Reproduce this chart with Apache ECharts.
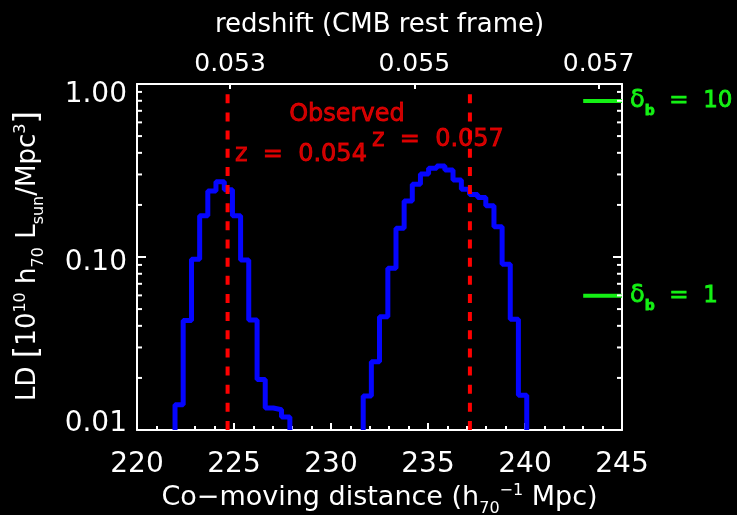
<!DOCTYPE html>
<html>
<head>
<meta charset="utf-8">
<script src="https://cdn.jsdelivr.net/npm/echarts@6.0.0/dist/echarts.min.js"></script>
<style>
html,body{margin:0;padding:0;background:#000;}
#chart{width:737px;height:515px;}
</style>
</head>
<body>
<div id="chart"></div>
<script>
// ---------------- data ----------------
// luminosity-density histogram around the nearer structure (bin edges in h70^-1 Mpc)
const leftBinEdges = [221.96, 222.38, 222.81, 223.23, 223.65, 224.07, 224.50, 224.92, 225.34, 225.76, 226.19, 226.61, 227.03, 227.45, 227.88];
const leftLD = [0.0140, 0.0429, 0.097, 0.173, 0.241, 0.272, 0.245, 0.173, 0.096, 0.0432, 0.0196, 0.0134, 0.0131, 0.0119];
// histogram around the farther structure
const rightBinEdges = [231.66, 232.08, 232.50, 232.93, 233.35, 233.77, 234.19, 234.61, 235.03, 235.45, 235.87, 236.29, 236.72, 237.14, 237.56, 237.98, 238.40, 238.82, 239.24, 239.66, 240.09];
const rightLD = [0.0157, 0.0248, 0.0452, 0.0861, 0.1466, 0.2108, 0.263, 0.302, 0.326, 0.336, 0.318, 0.279, 0.246, 0.230, 0.221, 0.198, 0.1496, 0.0908, 0.0437, 0.0159];
// observed redshifts (dashed lines)
const observedDistances = [224.67, 237.16];
const observedLabels = ['z  =  0.054', 'z  =  0.057'];
const observedTopLD = 0.875;
// overdensity reference levels
const deltaLevels = [0.797, 0.0597];
const deltaLabels = ['10', '1'];
const deltaMarkerFrom = 243.0;
// axes
const distanceRange = [220, 245];
const distanceStep = 5;
const redshiftRange = [0.05199, 0.057255];
const redshiftTicks = [0.053, 0.055, 0.057];
const ldRange = [0.01, 1];
const ldMinorTicks = [0.02, 0.03, 0.04, 0.05, 0.06, 0.07, 0.08, 0.09, 0.2, 0.3, 0.4, 0.5, 0.6, 0.7, 0.8, 0.9];

// ---------------- styling ----------------
const FONT = 'DejaVu Sans';
const WHITE = '#ffffff';
const RED = '#ff0000';
const BLUE = '#0505ff';
const GREEN = '#14f014';

function stepOutline(edges, values) {
  const pts = [[edges[0], ldRange[0]]];
  for (let i = 0; i < values.length; i++) pts.push([edges[i + 1], values[i]]);
  pts.push([edges[edges.length - 1], ldRange[0]]);
  return pts;
}

const axisLineStyle = { show: true, lineStyle: { color: WHITE, width: 2 } };

function titleRich(size) {
  return {
    m: { fontFamily: FONT, fontSize: size, color: WHITE, lineHeight: 34 },
    sub: { fontFamily: FONT, fontSize: 16, color: WHITE, verticalAlign: 'bottom', height: 12, lineHeight: 34 },
    sup: { fontFamily: FONT, fontSize: 16, color: WHITE, verticalAlign: 'top', height: 20, lineHeight: 34 },
    br: { fontFamily: FONT, fontSize: 32, color: WHITE, lineHeight: 34 }
  };
}

const ldLabelRich = {
  t: { fontFamily: FONT, fontSize: 28, color: WHITE, padding: [22, 0, 0, 0] },
  c: { fontFamily: FONT, fontSize: 28, color: WHITE, padding: [12, 0, 0, 0] },
  b: { fontFamily: FONT, fontSize: 28, color: WHITE, padding: [0, 0, 12, 0] }
};

const series = [];
series.push({
  type: 'line', name: 'near', step: 'start', symbol: 'none', silent: true,
  data: stepOutline(leftBinEdges, leftLD),
  lineStyle: { color: BLUE, width: 5 }, z: 3
});
series.push({
  type: 'line', name: 'far', step: 'start', symbol: 'none', silent: true,
  data: stepOutline(rightBinEdges, rightLD),
  lineStyle: { color: BLUE, width: 5 }, z: 3
});
observedDistances.forEach((d) => {
  series.push({
    type: 'line', symbol: 'none', silent: true,
    data: [[d, ldRange[0]], [d, observedTopLD]],
    lineStyle: { color: RED, width: 4, type: [9, 9.15] }, z: 4
  });
});
const greenText = { fontFamily: FONT, color: GREEN, textBorderColor: GREEN, textBorderWidth: 0.8 };
deltaLevels.forEach((lv, i) => {
  series.push({
    type: 'line', symbol: 'none', silent: true,
    data: [[deltaMarkerFrom, lv], [distanceRange[1], lv]],
    lineStyle: { color: GREEN, width: 4 }, z: 4,
    endLabel: {
      show: true, distance: 8,
      formatter: '{d|δ}{s|b}{e|  =  ' + deltaLabels[i] + '}',
      rich: {
        d: Object.assign({ fontSize: 24, lineHeight: 30 }, greenText),
        s: Object.assign({ fontSize: 14, fontWeight: 'bold', verticalAlign: 'bottom', height: 9, lineHeight: 30 }, greenText),
        e: Object.assign({ fontSize: 23, lineHeight: 30 }, greenText)
      }
    }
  });
});
// text annotations anchored in data space
series.push({
  type: 'scatter', symbolSize: 0, silent: true, z: 5,
  label: {
    show: true, color: RED, fontFamily: FONT, fontSize: 24, position: [0, 0], align: 'left', verticalAlign: 'middle',
    textBorderColor: RED, textBorderWidth: 0.8
  },
  data: [
    { value: [230.82, 0.662], label: { formatter: 'Observed', align: 'center' } },
    { value: [225.05, 0.389], label: { formatter: observedLabels[0] } },
    { value: [232.11, 0.4746], label: { formatter: observedLabels[1] } }
  ]
});
// minor ticks of the log LD axis (left and right frame)
series.push({
  type: 'custom', silent: true, z: 6,
  data: ldMinorTicks.map(v => [distanceRange[0], v]),
  renderItem: function (params, api) {
    const cs = params.coordSys;
    const y = api.coord([api.value(0), api.value(1)])[1];
    const st = { stroke: WHITE, lineWidth: 2 };
    return { type: 'group', children: [
      { type: 'line', shape: { x1: cs.x, y1: y, x2: cs.x + 5, y2: y }, style: st },
      { type: 'line', shape: { x1: cs.x + cs.width - 5, y1: y, x2: cs.x + cs.width, y2: y }, style: st }
    ] };
  }
});

const option = {
  backgroundColor: '#000000',
  animation: false,
  grid: { left: 137, top: 84, width: 485, height: 346, containLabel: false, outerBoundsMode: 'none' },
  xAxis: [
    {
      type: 'value', position: 'bottom', min: distanceRange[0], max: distanceRange[1], interval: distanceStep,
      axisLine: axisLineStyle,
      axisTick: { show: true, inside: true, length: 7, lineStyle: { color: WHITE, width: 2 } },
      minorTick: { show: true, splitNumber: 5, length: 4, lineStyle: { color: WHITE, width: 2 } },
      axisLabel: { color: WHITE, fontFamily: FONT, fontSize: 28, margin: 21, showMinLabel: true, showMaxLabel: true },
      splitLine: { show: false }, minorSplitLine: { show: false },
      name: '{m|Co−moving distance (h}{sub|70}{sup|−1}{m| Mpc)}',
      nameLocation: 'middle', nameGap: 51, nameMoveOverlap: false,
      nameTextStyle: { rich: titleRich(27) }
    },
    {
      type: 'value', position: 'top', min: redshiftRange[0], max: redshiftRange[1],
      axisLine: axisLineStyle,
      axisTick: { show: true, inside: true, length: 5, customValues: redshiftTicks, lineStyle: { color: WHITE, width: 2 } },
      axisLabel: { color: WHITE, fontFamily: FONT, fontSize: 25, margin: 7, customValues: redshiftTicks, formatter: v => v.toFixed(3) },
      splitLine: { show: false },
      name: 'redshift (CMB rest frame)', nameLocation: 'middle', nameGap: 46, nameMoveOverlap: false,
      nameTextStyle: { color: WHITE, fontFamily: FONT, fontSize: 26 }
    }
  ],
  yAxis: [
    {
      type: 'log', logBase: 10, position: 'left', min: ldRange[0], max: ldRange[1],
      axisLine: axisLineStyle,
      axisTick: { show: true, inside: true, length: 9, lineStyle: { color: WHITE, width: 2 } },
      axisLabel: {
        color: WHITE, fontFamily: FONT, fontSize: 28, margin: 10,
        formatter: v => {
          const s = Number(v).toFixed(2);
          const k = v >= 0.5 ? 't' : (v <= 0.015 ? 'b' : 'c');
          return '{' + k + '|' + s + '}';
        },
        rich: ldLabelRich
      },
      splitLine: { show: false },
      name: '{m|LD }{br|[}{m|10}{sup|10}{m| h}{sub|70}{m| L}{sub|sun}{m|/Mpc}{sup|3}{br|]}',
      nameLocation: 'middle', nameGap: 92, nameRotate: 90, nameMoveOverlap: false,
      nameTextStyle: { rich: titleRich(26), padding: [0, 0, 0, 2] }
    },
    {
      type: 'log', logBase: 10, position: 'right', min: ldRange[0], max: ldRange[1],
      axisLine: axisLineStyle,
      axisTick: { show: true, inside: true, length: 9, lineStyle: { color: WHITE, width: 2 } },
      axisLabel: { show: false },
      splitLine: { show: false }
    }
  ],
  series: series
};

const chart = echarts.init(document.getElementById('chart'), null, { renderer: 'canvas' });
chart.setOption(option);
</script>
</body>
</html>
